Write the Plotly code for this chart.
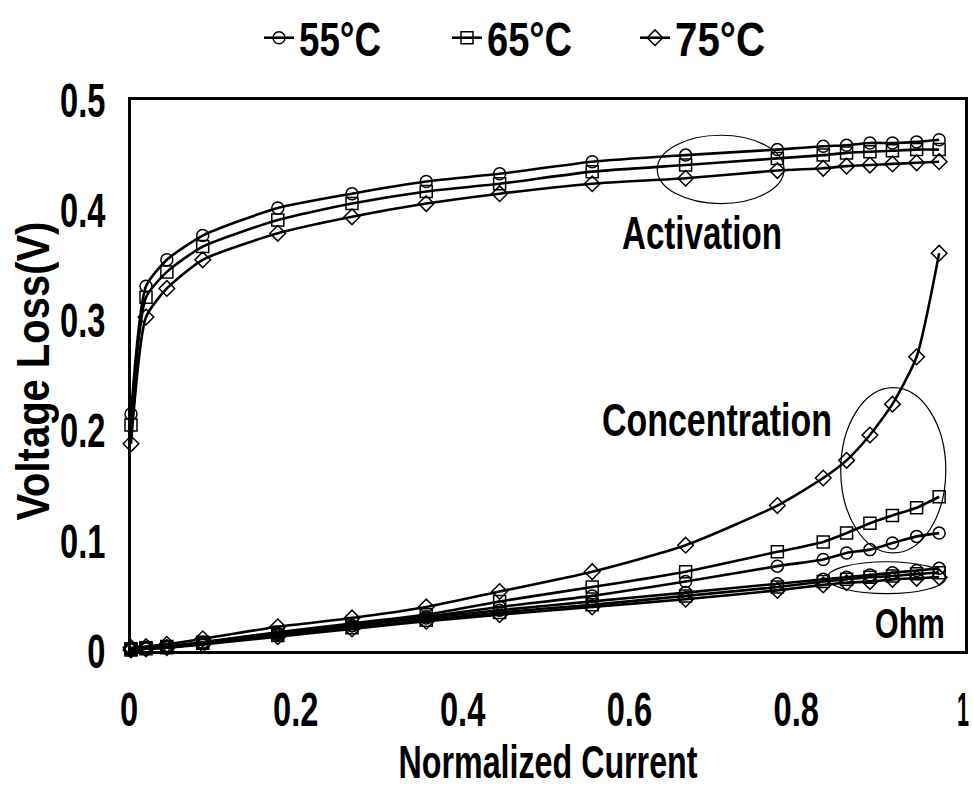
import plotly.graph_objects as go

# Normalized current (x)
current = [0, 0.018, 0.043, 0.086, 0.176, 0.265, 0.354, 0.442, 0.553, 0.665,
           0.775, 0.830, 0.858, 0.886, 0.913, 0.942, 0.969]

series_names = ["55°C", "65°C", "75°C"]

act_55 = [0.215, 0.331, 0.355, 0.377, 0.402, 0.415, 0.426, 0.433, 0.444, 0.450,
          0.455, 0.458, 0.459, 0.461, 0.461, 0.462, 0.464]
act_65 = [0.205, 0.321, 0.344, 0.367, 0.391, 0.406, 0.417, 0.424, 0.435, 0.441,
          0.447, 0.450, 0.452, 0.453, 0.454, 0.455, 0.455]
act_75 = [0.188, 0.303, 0.329, 0.355, 0.379, 0.394, 0.406, 0.415, 0.424, 0.429,
          0.436, 0.438, 0.440, 0.441, 0.442, 0.443, 0.444]

conc_55 = [0.002, 0.003, 0.004, 0.008, 0.016, 0.023, 0.031, 0.040, 0.050, 0.063,
           0.077, 0.083, 0.089, 0.092, 0.098, 0.104, 0.107]
conc_65 = [0.002, 0.003, 0.004, 0.008, 0.017, 0.025, 0.033, 0.045, 0.058, 0.072,
           0.090, 0.099, 0.107, 0.116, 0.123, 0.130, 0.140]
conc_75 = [0.003, 0.004, 0.006, 0.011, 0.022, 0.030, 0.040, 0.054, 0.072, 0.096,
           0.132, 0.157, 0.173, 0.196, 0.224, 0.267, 0.361]

ohm_55 = [0.001, 0.002, 0.004, 0.007, 0.015, 0.023, 0.030, 0.037, 0.045, 0.053,
          0.061, 0.065, 0.067, 0.069, 0.071, 0.073, 0.075]
ohm_65 = [0.001, 0.002, 0.003, 0.007, 0.014, 0.021, 0.028, 0.035, 0.042, 0.050,
          0.058, 0.063, 0.065, 0.067, 0.068, 0.070, 0.071]
ohm_75 = [0.001, 0.002, 0.003, 0.006, 0.013, 0.020, 0.027, 0.033, 0.040, 0.047,
          0.055, 0.060, 0.062, 0.063, 0.065, 0.066, 0.067]

x_ticks = [0, 0.2, 0.4, 0.6, 0.8, 1]
y_ticks = [0, 0.1, 0.2, 0.3, 0.4, 0.5]

FONT = "Liberation Sans, Arial, sans-serif"

groups = [
    ("55°C", "circle-open", [act_55, conc_55, ohm_55]),
    ("65°C", "square-open", [act_65, conc_65, ohm_65]),
    ("75°C", "diamond-open", [act_75, conc_75, ohm_75]),
]

fig = go.Figure()
for name, sym, data in groups:
    for i, ys in enumerate(data):
        fig.add_trace(go.Scatter(
            x=current, y=ys, mode="lines+markers", name=name,
            legendgroup=name, showlegend=(i == 0),
            line=dict(color="black", width=2.6, shape="spline", smoothing=0.6),
            marker=dict(symbol=sym, size=12, color="black",
                        line=dict(color="black", width=1.5)),
            cliponaxis=False,
        ))

# annotation ellipses
ellipse = dict(type="circle", xref="x", yref="y",
               line=dict(color="black", width=1.2))
fig.add_shape(x0=0.631, x1=0.783, y0=0.406, y1=0.468, **ellipse)
fig.add_shape(x0=0.851, x1=0.977, y0=0.089, y1=0.239, **ellipse)
fig.add_shape(x0=0.835, x1=0.977, y0=0.052, y1=0.081, **ellipse)

labfont = dict(family=FONT, size=46, color="black", weight="bold")
fig.add_annotation(x=0.685, y=0.379, text="Activation", showarrow=False,
                   width=166, font=labfont)
fig.add_annotation(x=0.703, y=0.210, text="Concentration", showarrow=False,
                   width=236, font=labfont)
fig.add_annotation(x=0.934, y=0.025, text="Ohm", showarrow=False,
                   font=dict(family=FONT, size=42, color="black", weight="bold"))

# y-axis title (placed as rotated annotation beside the tick labels)
fig.add_annotation(xref="paper", yref="paper", x=-0.1175, y=0.508,
                   text="Voltage Loss(V)", textangle=-90, showarrow=False,
                   width=304, xanchor="center", yanchor="middle", font=labfont)

axis_common = dict(showline=True, linecolor="black", linewidth=3, mirror=True,
                   showgrid=False, zeroline=False, ticks="", automargin=False,
                   ticklabeloverflow="allow",
                   tickfont=dict(family=FONT, size=48, color="black", weight="bold"))

fig.update_xaxes(range=[0, 1], tickvals=x_ticks,
                 ticktext=[f"{v:g}" for v in x_ticks], ticklabelstandoff=14,
                 ticklabelshift=-2,
                 title=dict(text="Normalized Current", standoff=12,
                            font=dict(family=FONT, size=46, color="black", weight="bold")),
                 **axis_common)
fig.update_yaxes(range=[0, 0.5], tickvals=y_ticks,
                 ticktext=[f"{v:g}" for v in y_ticks], ticklabelstandoff=13,
                 **axis_common)

fig.update_layout(
    width=973, height=791,
    margin=dict(l=131, r=8, t=100, b=140, autoexpand=False),
    paper_bgcolor="white", plot_bgcolor="white",
    showlegend=True,
    legend=dict(orientation="h", xref="container", yref="container",
                x=259 / 973, xanchor="left", y=1.0, yanchor="top",
                entrywidthmode="pixels", entrywidth=143,
                font=dict(family=FONT, size=48, color="black", weight="bold"),
                bgcolor="rgba(0,0,0,0)"),
)

# condense the bold lettering horizontally (the original uses a narrow face)
squeeze_js = """
var gd = document.getElementById('{plot_id}');
var target = {"Normalized Current": 299, "Voltage Loss(V)": 299,
              "Activation": 160, "Concentration": 230, "Ohm": 70, "1": 12,
              "55\\u00b0C": 82, "65\\u00b0C": 85, "75\\u00b0C": 90};
gd.querySelectorAll('text').forEach(function (t) {
  var s = t.textContent;
  var w = t.getComputedTextLength();
  if (!w) return;
  var tw = (s in target) ? target[s] : w * 0.68;
  t.setAttribute('textLength', tw);
  t.setAttribute('lengthAdjust', 'spacingAndGlyphs');
});
"""

fig.write_html("out.html", post_script=squeeze_js)
